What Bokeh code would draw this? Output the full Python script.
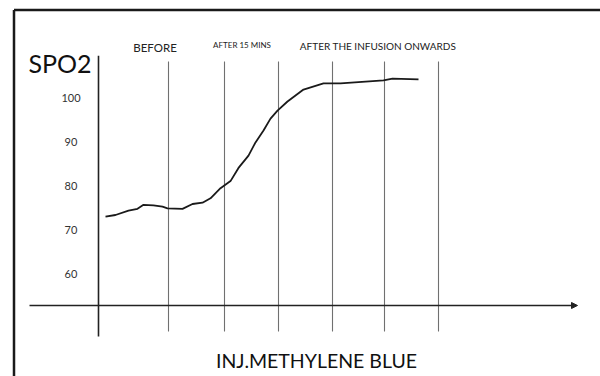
from bokeh.plotting import figure
from bokeh.models import Range1d, Arrow, NormalHead, Label, ColumnDataSource
from bokeh.core.properties import value
from bokeh.embed import file_html
from bokeh.resources import INLINE

# ---- data ----
time = [0.7, 1.7, 3.0, 3.9, 4.5, 5.5, 6.4, 6.9, 8.4, 9.4, 10.4, 11.2, 12.2, 13.2,
        14.0, 15.0, 15.7, 16.5, 17.2, 17.9, 18.9, 20.5, 22.5, 24.2, 28.5, 29.4, 32.0]
spo2 = [72.95, 73.3, 74.3, 74.7, 75.6, 75.5, 75.2, 74.8, 74.7, 75.8, 76.1, 77.1, 79.4, 81.0,
        84.0, 86.8, 89.8, 92.5, 95.2, 97.0, 99.1, 101.8, 103.2, 103.2, 103.9, 104.3, 104.1]
marker_times = [7.0, 12.6, 18.0, 23.4, 28.6, 34.0]
y_ticks = [60, 70, 80, 90, 100]
y_tick_labels = ["60", "70", "80", "90", "100"]
phase_labels = ["BEFORE", "AFTER 15 MINS", "AFTER THE INFUSION ONWARDS"]
phase_label_x = [5.65, 14.35, 27.95]
phase_label_y = [111.4, 112.0, 111.6]
phase_label_size = ["11.5px", "8px", "10px"]
y_title = "SPO2"
x_title = "INJ.METHYLENE BLUE"

FONT = "Lato"
X0, X1 = -9.8, 50.2
Y0, Y1 = 36.59, 122.05

p = figure(width=600, height=376, output_backend="svg", toolbar_location=None,
           x_range=Range1d(X0, X1), y_range=Range1d(Y0, Y1),
           x_axis_location=None, y_axis_location=None, min_border=0)
p.grid.visible = False
p.outline_line_color = None
p.background_fill_color = "white"
p.border_fill_color = "white"

# frame (top and left edges)
p.line(x=[-8.45, X1], y=[119.9, 119.9], line_color="#1a1a1a", line_width=2.5)
p.line(x=[-8.45, -8.45], y=[Y0, 119.9], line_color="#1a1a1a", line_width=2.5)

# vertical marker lines
p.segment(x0=marker_times, x1=marker_times,
          y0=[108.2] * len(marker_times), y1=[46.8] * len(marker_times),
          line_color="#707070", line_width=1.1)

# y axis line
p.line(x=[0, 0], y=[109.5, 45.7], line_color="#222222", line_width=1.6)

# x axis with arrow
p.add_layout(Arrow(end=NormalHead(size=6, fill_color="#222222", line_color="#222222"),
                   x_start=-6.9, y_start=52.73, x_end=47.9, y_end=52.73,
                   line_color="#222222", line_width=1.6))

# curve
p.line(x=time, y=spo2, line_color="#1a1a1a", line_width=1.8)

# tick labels
tick_src = ColumnDataSource(dict(x=[-2.75] * len(y_ticks), y=y_ticks, t=y_tick_labels))
p.text(x="x", y="y", text="t", source=tick_src, text_font=value(FONT),
       text_font_size="11px", text_color="#333333", text_align="center",
       text_baseline="middle")

# phase labels
for lbl, lx, ly, fs in zip(phase_labels, phase_label_x, phase_label_y, phase_label_size):
    p.add_layout(Label(x=lx, y=ly, text=lbl, text_font=FONT, text_font_size=fs,
                       text_color="#222222", text_align="center", text_baseline="middle"))

# axis titles
p.add_layout(Label(x=-3.85, y=107.95, text=y_title, text_font=FONT, text_font_size="25px",
                   text_color="#111111", text_align="center", text_baseline="middle"))
p.add_layout(Label(x=21.8, y=40.2, text=x_title, text_font=FONT, text_font_size="19.5px",
                   text_color="#111111", text_align="center", text_baseline="middle"))

open("out.html", "w").write(file_html(p, INLINE))
